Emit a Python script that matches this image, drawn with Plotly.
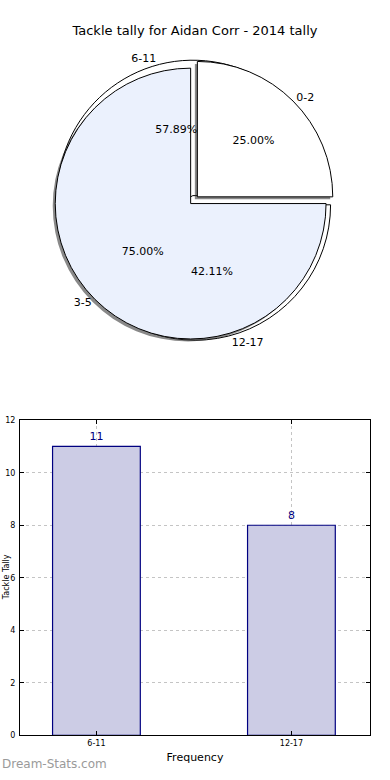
import plotly.graph_objects as go

# ---------------- data ----------------
chart_title = "Tackle tally for Aidan Corr - 2014 tally"
pie_a_labels = ["0-2", "3-5"]
pie_a_values = [1, 3]
pie_b_labels = ["6-11", "12-17"]
pie_b_values = [11, 8]
bar_categories = ["6-11", "12-17"]
bar_values = [11, 8]
y_ticks = [0, 2, 4, 6, 8, 10, 12]
x_title = "Frequency"
y_title = "Tackle Tally"
watermark = "Dream-Stats.com"

# ---------------- layout helpers ----------------
W, H = 390, 780
FONT = "DejaVu Sans"
PULL = 0.035
R = 137.0


def pie_domain(cx, cy, r=R, pull=PULL):
    half = r * (1 + pull)
    return dict(x=[(cx - half) / W, (cx + half) / W],
                y=[1 - (cy + half) / H, 1 - (cy - half) / H])


def start_at_three_oclock(values):
    # plotly's counterclockwise pies end the first slice at `rotation`;
    # shift so the first slice starts at 3 o'clock (matplotlib startangle=0)
    return 90 - 360.0 * values[0] / sum(values)


CX, CY = 194.0, 198.5
dom = pie_domain(CX, CY)
dom_shadow = pie_domain(CX - 2.5, CY + 2.5)

common = dict(sort=False, direction="counterclockwise",
              showlegend=False, hoverinfo="skip")
rot_a = start_at_three_oclock(pie_a_values)
rot_b = start_at_three_oclock(pie_b_values)

fig = go.Figure()

# pie B (behind)
fig.add_trace(go.Pie(labels=pie_b_labels, values=pie_b_values, domain=dom,
                     rotation=rot_b, pull=[PULL] * len(pie_b_values),
                     marker=dict(colors=["white", "white"],
                                 line=dict(color="black", width=1)),
                     textinfo="none", **common))
# shadow of pie A
fig.add_trace(go.Pie(labels=pie_a_labels, values=pie_a_values, domain=dom_shadow,
                     rotation=rot_a, pull=[PULL] * len(pie_a_values),
                     marker=dict(colors=["rgba(40,40,40,0.55)", "rgba(40,40,40,0.55)"],
                                 line=dict(width=0)),
                     textinfo="none", **common))
# pie A (front)
fig.add_trace(go.Pie(labels=pie_a_labels, values=pie_a_values, domain=dom,
                     rotation=rot_a, pull=[PULL] * len(pie_a_values),
                     marker=dict(colors=["white", "#EBF1FD"],
                                 line=dict(color="black", width=1)),
                     texttemplate="%{percent:.2%}", textposition="inside",
                     insidetextorientation="horizontal",
                     textfont=dict(family=FONT, size=11, color="black"), **common))
# text-only overlays
clear = dict(colors=["rgba(0,0,0,0)", "rgba(0,0,0,0)"], line=dict(width=0))
fig.add_trace(go.Pie(labels=pie_b_labels, values=pie_b_values, domain=dom,
                     rotation=rot_b, pull=[PULL] * len(pie_b_values), marker=clear,
                     texttemplate="%{percent:.2%}", textposition="inside",
                     insidetextorientation="horizontal",
                     textfont=dict(family=FONT, size=11, color="black"), **common))
fig.add_trace(go.Pie(labels=pie_a_labels, values=pie_a_values, domain=dom,
                     rotation=rot_a, pull=[PULL] * len(pie_a_values), marker=clear,
                     texttemplate="%{label}", textposition="outside",
                     textfont=dict(family=FONT, size=11, color="black"), **common))
fig.add_trace(go.Pie(labels=pie_b_labels, values=pie_b_values, domain=dom,
                     rotation=rot_b, pull=[PULL] * len(pie_b_values), marker=clear,
                     texttemplate="%{label}", textposition="outside",
                     textfont=dict(family=FONT, size=11, color="black"), **common))

# bar chart
fig.add_trace(go.Bar(x=bar_categories, y=bar_values, width=0.45,
                     marker=dict(color="#CCCCE5", line=dict(color="#000080", width=1.2)),
                     text=[str(v) for v in bar_values], textposition="outside",
                     textfont=dict(family=FONT, size=11, color="#000080"),
                     cliponaxis=False, showlegend=False, hoverinfo="skip"))

axis_common = dict(showline=True, linecolor="black", linewidth=1, mirror="ticks",
                   ticks="inside", ticklen=4, tickcolor="black",
                   showgrid=True, gridcolor="#c4c4c4", griddash="dot", gridwidth=1,
                   zeroline=False,
                   tickfont=dict(family=FONT, size=8, color="black"))

fig.update_layout(
    width=W, height=H, margin=dict(l=0, r=0, t=0, b=0),
    paper_bgcolor="white", plot_bgcolor="white",
    font=dict(family=FONT, color="black"),
    title=dict(text=chart_title, x=0.5, xanchor="center", y=1 - 30 / H, yanchor="middle",
               font=dict(family=FONT, size=13, color="black")),
    xaxis=dict(domain=[20 / W, 370 / W], type="category", range=[-0.392, 1.403],
               title=dict(text=x_title, font=dict(family=FONT, size=11), standoff=6),
               **axis_common),
    yaxis=dict(domain=[40 / H, 359 / H], range=[0, 12], tickvals=y_ticks,
               ticklabelstandoff=2, **axis_common),
    annotations=[
        dict(text=y_title, textangle=-90, xref="paper", yref="paper",
             x=0, y=(40 + 319 / 2) / H, xanchor="left", yanchor="middle",
             showarrow=False, font=dict(family=FONT, size=8, color="black")),
        dict(text=watermark, xref="paper", yref="paper", x=0, y=2 / H,
             xanchor="left", yanchor="bottom", showarrow=False,
             font=dict(family=FONT, size=12, color="#9a9a9a")),
    ],
)

fig.write_html("out.html", config={"displayModeBar": False},
               post_script="document.body.style.margin='0';")
